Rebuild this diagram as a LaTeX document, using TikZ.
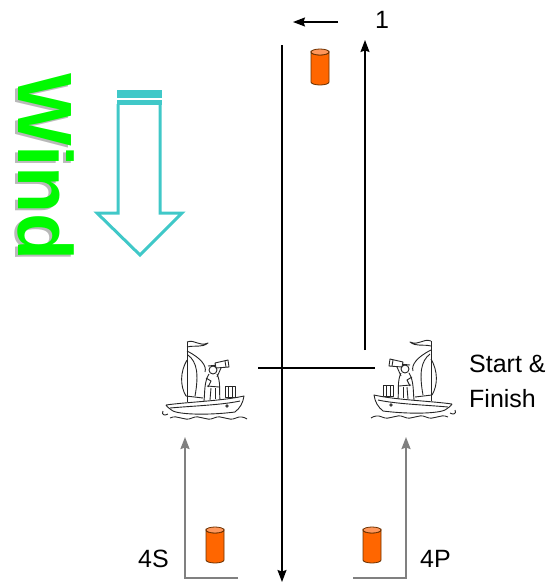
\documentclass[tikz,border=0pt]{standalone}
\usepackage{fontspec}
\setmainfont{Liberation Sans}
\usetikzlibrary{arrows.meta}

\definecolor{windgreen}{RGB}{0,250,0}
\definecolor{windcyan}{RGB}{64,200,200}
\definecolor{buoyorange}{RGB}{255,102,0}
\definecolor{buoytop}{RGB}{255,150,90}
\definecolor{buoyedge}{RGB}{110,50,0}
\definecolor{leggray}{RGB}{128,128,128}

\tikzset{
  course/.style={black, line width=1.4pt},
  leg/.style={leggray, line width=2pt},
  lbl/.style={font=\fontsize{25}{28}\selectfont, inner sep=0pt},
  sketch/.style={black!85, line width=0.9pt, line join=round},
  buoy/.pic={
    \draw[buoyedge, line width=0.8pt, fill=buoyorange] (-9,-15) -- (-9,15)
      arc[start angle=180, end angle=0, x radius=9, y radius=3] -- (9,-15)
      arc[start angle=0, end angle=180, x radius=9, y radius=3] -- cycle;
    \draw[buoyedge, line width=0.8pt, fill=buoytop] (0,-15) ellipse[x radius=9, y radius=3];
  },
  boat/.pic={
    % mast and flag
    \draw[sketch] (-20,-40) -- (-20,20);
    \draw[sketch] (-20,-40) .. controls (-12,-43) and (-8,-35) .. (1,-39)
      .. controls (-5,-34) and (-12,-37) .. (-20,-35);
    % sails
    \draw[sketch] (-20,-31) .. controls (-6,-24) and (0,-16) .. (-2,-10);
    \draw[sketch] (-19,-27) .. controls (-10,-20) and (-8,-8) .. (-12,14);
    \draw[sketch] (-20,-22) .. controls (-27,-10) and (-27,4) .. (-21,14);
    \draw[sketch] (-21,14) -- (-4,16);
    % sailor with telescope
    \draw[sketch, fill=white] (6,-12) circle (4);
    \draw[sketch] (1,-16) -- (11,-17);
    \draw[sketch, fill=white] (8,-19) -- (21,-22) -- (22,-15) -- (9,-14) -- cycle;
    \draw[sketch] (18,-21) -- (19,-15);
    \draw[sketch] (2,-8) .. controls (-3,0) and (-2,10) .. (-3,19);
    \draw[sketch] (10,-8) .. controls (14,0) and (12,10) .. (13,18);
    \draw[sketch] (10,-5) -- (14,-14);
    \draw[sketch] (-1,-4) -- (4,-1) -- (1,5);
    \draw[sketch] (0,4) -- (12,5);
    \draw[sketch] (4,6) -- (3,18);
    \draw[sketch] (8,6) -- (8,17);
    % cabin box
    \draw[sketch, fill=white] (18,4) rectangle (28,15);
    \draw[sketch] (21,4) -- (21,15);
    \draw[sketch] (25,4) -- (25,15);
    % hull
    \draw[sketch, fill=white] (-41,23) .. controls (-20,20) and (15,19) .. (37,14)
      .. controls (36,21) and (33,26) .. (28,30)
      .. controls (5,33) and (-25,33) .. (-34,29)
      .. controls (-37,27) and (-40,25) .. (-41,23);
    \draw[sketch] (-37,26) .. controls (-15,24) and (15,23) .. (33,19);
    \draw[sketch] (-44,29) .. controls (-46,33) and (-42,34) .. (-39,32);
    \draw[sketch] (20,24) circle (1.2);
    % waves
    \draw[sketch] (-37,36) .. controls (-29,32) and (-23,40) .. (-15,36)
      .. controls (-7,32) and (-1,40) .. (7,36)
      .. controls (15,32) and (21,40) .. (29,36)
      .. controls (33,34) and (37,35) .. (40,37);
  }
}

\begin{document}
\begin{tikzpicture}[x=1pt, y=-1pt, >={Stealth[length=12pt, width=9pt, inset=1.5pt]}]
\useasboundingbox (0,0) rectangle (555,584);
% wind
\node[rotate=-90, anchor=base west, inner sep=0pt, text=gray!55,
  font=\fontsize{77}{80}\selectfont\bfseries] (windshade) at (16,75) {Wind};
\node[rotate=-90, anchor=base west, inner sep=0pt, text=windgreen,
  font=\fontsize{77}{80}\selectfont\bfseries] (wind) at (18.5,73) {Wind};
\fill[windcyan] (116.5,90) rectangle (161.5,97.5);
\fill[windcyan] (116.5,100) rectangle (161.5,105);
\draw[windcyan, line width=3pt, line join=miter] (118,104) -- (118,213) -- (97,213)
  -- (140,255) -- (182,213) -- (160,213) -- (160,104);
%% buoys
\pic at (320,67) {buoy};
\pic at (215,545) {buoy};
\pic at (372,545) {buoy};
%% boats
\pic at (207,382) {boat};
\pic[xscale=-1] at (411,381) {boat};
%% start line
\coordinate (S1) at (258,368) ;
\coordinate (S2) at (375,368) ;
\draw[course] (S1) -- (S2) ;
%% course
\coordinate (A) at (282,45) ;
\coordinate (B) at (282,582) ;
\draw[course, ->] (A) -- (B) ;
\coordinate (C) at (365,350) ;
\coordinate (D) at (365,40) ;
\draw[course, ->] (C) -- (D) ;
\coordinate (E) at (338,22) ;
\coordinate (F) at (293,22) ;
\draw[course, ->] (E) -- (F) ;
%% gate legs
\coordinate (G1) at (238,578) ;
\coordinate (G2) at (185,578) ;
\coordinate (G3) at (185,437) ;
\draw[leg, ->] (G1) -- (G2) -- (G3) ;
\coordinate (H1) at (353,578) ;
\coordinate (H2) at (406,578) ;
\coordinate (H3) at (406,437) ;
\draw[leg, ->] (H1) -- (H2) -- (H3) ;
%% labels
\node[lbl, anchor=base west] (one) at (375,28) {1};
\node[lbl, anchor=base west] (start) at (469,372) {Start \&};
\node[lbl, anchor=base west] (finish) at (469,407) {Finish};
\node[lbl, anchor=base west] (fours) at (138,567) {4S};
\node[lbl, anchor=base west] (fourp) at (420,567) {4P};
\end{tikzpicture}
\end{document}
